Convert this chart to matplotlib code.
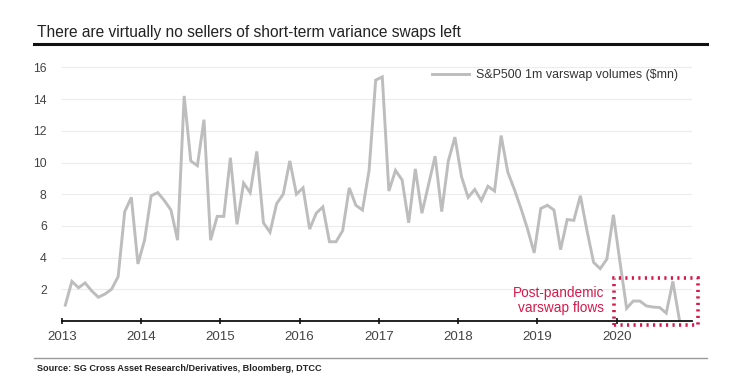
import matplotlib
matplotlib.use("Agg")
import matplotlib.pyplot as plt
import numpy as np
from matplotlib.patches import Rectangle

plt.rcParams['font.family'] = ['Liberation Sans', 'DejaVu Sans']

start_year = 2013
volumes = [1.0, 2.5, 2.1, 2.4, 1.9, 1.5, 1.7, 2.0, 2.8, 6.9, 7.8, 3.6,
           5.1, 7.9, 8.1, 7.6, 7.0, 5.1, 14.2, 10.1, 9.8, 12.7, 5.1, 6.6,
           6.6, 10.3, 6.1, 8.7, 8.1, 10.7, 6.2, 5.6, 7.4, 8.0, 10.1, 8.0,
           8.4, 5.8, 6.8, 7.2, 5.0, 5.0, 5.7, 8.4, 7.3, 7.0, 9.5, 15.2,
           15.4, 8.2, 9.5, 8.9, 6.2, 9.6, 6.8, 8.6, 10.4, 6.9, 10.1, 11.6,
           9.1, 7.8, 8.3, 7.6, 8.5, 8.2, 11.7, 9.4, 8.3, 7.1, 5.8, 4.3,
           7.1, 7.3, 7.0, 4.5, 6.4, 6.35, 7.9, 5.7, 3.7, 3.3, 3.9, 6.7,
           3.7, 0.8, 1.26, 1.26, 0.95, 0.88, 0.85, 0.5, 2.5, 0.05]
year_ticks = [2013, 2014, 2015, 2016, 2017, 2018, 2019, 2020]
y_ticks = [2, 4, 6, 8, 10, 12, 14, 16]
series_label = "S&P500 1m varswap volumes ($mn)"
title = "There are virtually no sellers of short-term variance swaps left"
source = "Source: SG Cross Asset Research/Derivatives, Bloomberg, DTCC"
note = "Post-pandemic\nvarswap flows"
box_x = (2019.96, 2021.02)
box_y = (-0.25, 2.7)

x = start_year + (np.arange(len(volumes)) + 0.5) / 12.0

W, H = 746, 382
fig = plt.figure(figsize=(W / 100, H / 100), dpi=100)
ax = fig.add_axes([62 / W, 1 - 321 / H, (692 - 62) / W, (321 - 57.9) / H])

ax.plot(x, volumes, color='#bdbdbd', lw=2.1, label=series_label, solid_joinstyle='miter')
ax.set_xlim(2013, 2020.95)
ax.set_ylim(0, 16.6)
ax.set_yticks(y_ticks)
ax.set_xticks(year_ticks)
ax.set_xticklabels([str(t) for t in year_ticks])
ax.grid(axis='y', color='#ececec', lw=0.8)
ax.set_axisbelow(True)
for s in ['top', 'right', 'left']:
    ax.spines[s].set_visible(False)
ax.spines['bottom'].set_color('#111111')
ax.spines['bottom'].set_linewidth(1.3)
ax.tick_params(axis='y', length=0, pad=11, labelsize=8.8, labelcolor='#444444')
ax.tick_params(axis='x', length=4, width=1.2, color='#111111', pad=5,
               labelsize=9.6, labelcolor='#444444', direction='inout')

leg = ax.legend(loc='upper right', bbox_to_anchor=(0.99, 0.985), frameon=False,
                fontsize=8.9, handlelength=3.0, handletextpad=0.55, borderaxespad=0.2)
for t in leg.get_texts():
    t.set_color('#333333')

red = '#d6194b'
rect = Rectangle((box_x[0], box_y[0]), box_x[1] - box_x[0], box_y[1] - box_y[0],
                 fill=False, edgecolor=red, lw=2.6, linestyle=(0, (0.6, 1.2)),
                 clip_on=False, zorder=5)
ax.add_patch(rect)
ax.text(box_x[0] - 0.12, 1.3, note, color=red, fontsize=9.8, ha='right', va='center',
        linespacing=1.1)

# title and rules
fig.text(37 / W, 1 - 32.5 / H, title, fontsize=11.2, color='#222222', va='center', ha='left')
fig.add_artist(plt.Line2D([34 / W, 707 / W], [1 - 44 / H, 1 - 44 / H], color='#111111', lw=2.2))
fig.add_artist(plt.Line2D([34 / W, 707 / W], [1 - 357.5 / H, 1 - 357.5 / H], color='#999999', lw=1.0))
fig.text(37 / W, 1 - 368.5 / H, source, fontsize=6.6, color='#222222', va='center', ha='left',
         fontweight='bold')

fig.savefig('out.png', dpi=100)
